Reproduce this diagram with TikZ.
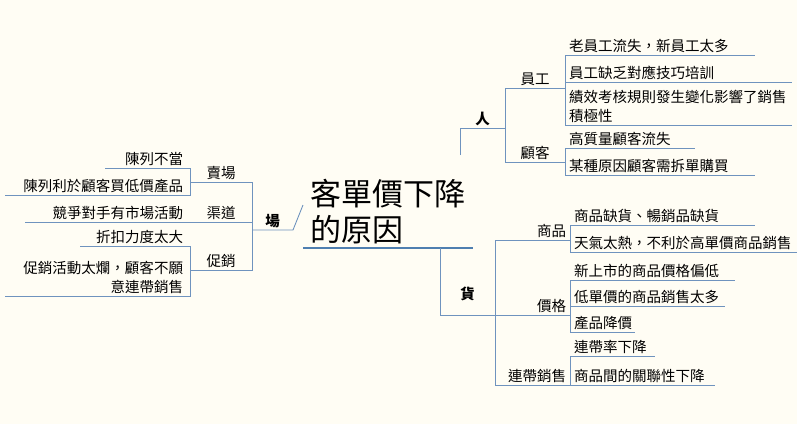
\documentclass[tikz,border=0pt]{standalone}
\usepackage{fontspec}
\setmainfont{Noto Sans CJK TC}
\usetikzlibrary{positioning}
\definecolor{bgcol}{HTML}{FFFDF4}
\definecolor{linecol}{HTML}{6F93BE}
\definecolor{maincol}{HTML}{4F7FB0}
\tikzset{
  rnode/.style={anchor=south west, inner ysep=2pt, inner xsep=4pt, outer sep=0pt, text width=#1-8pt, align=left, font=\fontsize{14.5}{19}\selectfont},
  lnode/.style={anchor=south east, inner ysep=2pt, inner xsep=7pt, outer sep=0pt, text width=#1-14pt, align=right, font=\fontsize{14.5}{19}\selectfont},
  link/.style={draw=linecol, line width=0.9pt},
}
\begin{document}
\begin{tikzpicture}[x=1pt, y=-1pt]
  \fill[bgcol] (0,0) rectangle (797,424);
  \useasboundingbox (0,0) rectangle (797,424);
  % centre
  \node[anchor=south west, inner sep=0pt, align=left, font=\fontsize{31}{36}\selectfont, text width=170pt] (root) at (310,244) {客單價下降\\的原因};
  \coordinate (rootl) at (303,248);
  \coordinate (rootr) at (473,248);
  \draw[maincol, line width=2.5pt] (rootl) -- (rootr);
  % 人
  \node[rnode=45pt, font=\fontsize{14.5}{19}\selectfont\bfseries, align=center] (ren) at (460,128) {人};
  \coordinate (renin) at (460,155);
  \draw[link] (renin) -- (ren.south west) -- (ren.south east);
  \node[rnode=60pt, align=center] (yuangong) at (505,88) {員工};
  \node[rnode=60pt, align=center] (guke) at (505,162) {顧客};
  \foreach \n in {yuangong,guke}
    \draw[link] (ren.south east) -- (\n.south west) -- (\n.south east);
  \node[rnode=190pt] (a1) at (565,55) {老員工流失，新員工太多};
  \node[rnode=227pt] (a2) at (565,82) {員工缺乏對應技巧培訓};
  \node[rnode=227pt] (a3) at (565,125) {績效考核規則發生變化影響了銷售\\積極性};
  \foreach \n in {a1,a2,a3}
    \draw[link] (yuangong.south east) -- (\n.south west) -- (\n.south east);
  \node[rnode=130pt] (b1) at (565,148) {高質量顧客流失};
  \node[rnode=190pt] (b2) at (565,175) {某種原因顧客需拆單購買};
  \foreach \n in {b1,b2}
    \draw[link] (guke.south east) -- (\n.south west) -- (\n.south east);
  % 場
  \node[lnode=41pt, font=\fontsize{14.5}{19}\selectfont\bfseries, align=center] (chang) at (293,230) {場};
  \coordinate (changin) at (303,205);
  \draw[link] (changin) -- (chang.south east) -- (chang.south west);
  \node[lnode=62pt, align=center] (maichang) at (252,182) {賣場};
  \node[lnode=62pt, align=center] (qudao) at (252,222) {渠道};
  \node[lnode=62pt, align=center] (cuxiao) at (252,270) {促銷};
  \foreach \n in {maichang,qudao,cuxiao}
    \draw[link] (chang.south west) -- (\n.south east) -- (\n.south west);
  \node[lnode=85pt] (c1) at (190,168) {陳列不當};
  \node[lnode=185pt] (c2) at (190,195) {陳列利於顧客買低價產品};
  \foreach \n in {c1,c2}
    \draw[link] (maichang.south west) -- (\n.south east) -- (\n.south west);
  \node[lnode=165pt] (d1) at (190,222) {競爭對手有市場活動};
  \draw[link] (qudao.south west) -- (d1.south east) -- (d1.south west);
  \node[lnode=110pt] (e1) at (190,246) {折扣力度太大};
  \node[lnode=185pt] (e2) at (190,296) {促銷活動太爛，顧客不願\\意連帶銷售};
  \foreach \n in {e1,e2}
    \draw[link] (cuxiao.south west) -- (\n.south east) -- (\n.south west);
  % 貨
  \node[rnode=55pt, font=\fontsize{14.5}{19}\selectfont\bfseries, align=center] (huo) at (440,303) {貨};
  \coordinate (huoin) at (440,248);
  \coordinate (huol) at (440,315);
  \coordinate (huor) at (495,315);
  \draw[link] (huoin) -- (huol) -- (huor);
  \node[rnode=75pt, align=right] (shangpin) at (495,240) {商品};
  \node[rnode=75pt, align=right] (jiage) at (495,315) {價格};
  \node[rnode=75pt, align=right] (liandai) at (495,385) {連帶銷售};
  \foreach \n in {shangpin,jiage,liandai}
    \draw[link] (huor) -- (\n.south west) -- (\n.south east);
  \node[rnode=185pt] (f1) at (570,225) {商品缺貨、暢銷品缺貨};
  \node[rnode=227pt] (f2) at (570,252) {天氣太熱，不利於高單價商品銷售};
  \foreach \n in {f1,f2}
    \draw[link] (shangpin.south east) -- (\n.south west) -- (\n.south east);
  \node[rnode=165pt] (g1) at (570,280) {新上市的商品價格偏低};
  \node[rnode=155pt] (g2) at (570,306) {低單價的商品銷售太多};
  \node[rnode=65pt] (g3) at (570,332) {產品降價};
  \foreach \n in {g1,g2,g3}
    \draw[link] (jiage.south east) -- (\n.south west) -- (\n.south east);
  \node[rnode=85pt] (h1) at (570,356) {連帶率下降};
  \node[rnode=145pt] (h2) at (570,385) {商品間的關聯性下降};
  \foreach \n in {h1,h2}
    \draw[link] (liandai.south east) -- (\n.south west) -- (\n.south east);
\end{tikzpicture}
\end{document}
